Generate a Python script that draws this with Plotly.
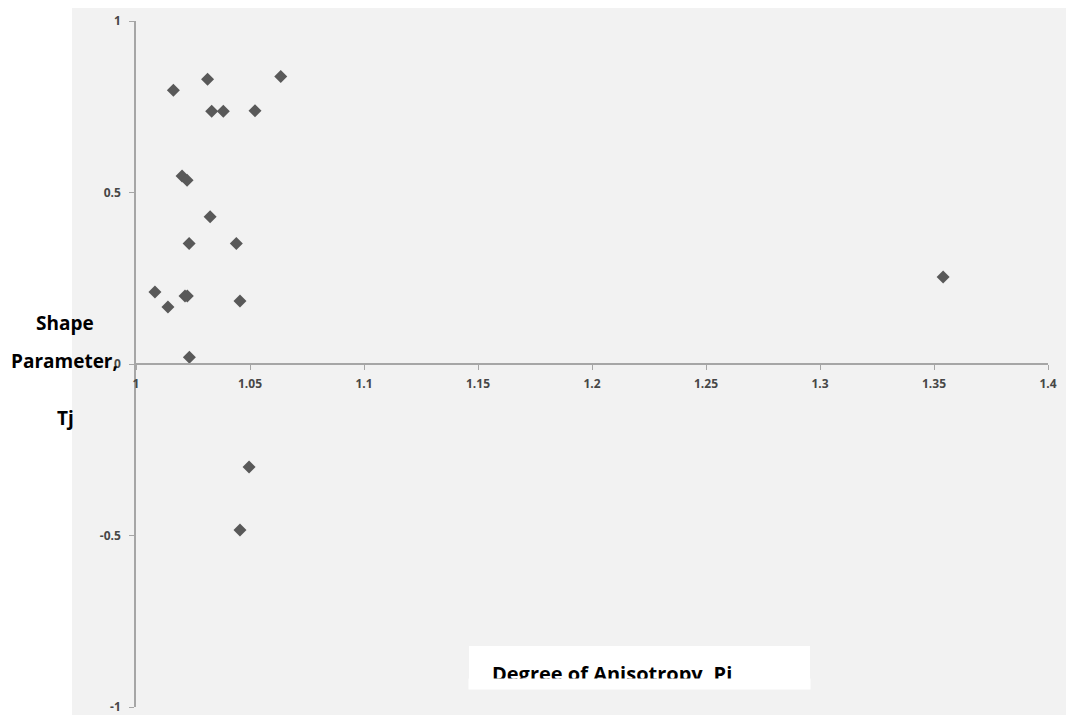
import plotly.graph_objects as go

# Data
pi_values = [1.0083, 1.0140, 1.0215, 1.0225, 1.0234, 1.0233, 1.0440, 1.0456, 1.0325,
             1.0202, 1.0224, 1.0164, 1.0314, 1.0332, 1.0383, 1.0522, 1.0635, 1.0456,
             1.0496, 1.3540]
tj_values = [0.210, 0.166, 0.198, 0.198, 0.020, 0.351, 0.351, 0.184, 0.429,
             0.548, 0.536, 0.798, 0.830, 0.737, 0.737, 0.738, 0.838, -0.484,
             -0.300, 0.254]

x_ticks = [1, 1.05, 1.1, 1.15, 1.2, 1.25, 1.3, 1.35, 1.4]
y_ticks = [-1, -0.5, 0, 0.5, 1]

fig = go.Figure()
fig.add_trace(go.Scatter(
    x=pi_values, y=tj_values, mode="markers",
    marker=dict(symbol="diamond", size=10, color="#595959"),
    showlegend=False, cliponaxis=False,
))

axis_common = dict(
    showgrid=False, zeroline=False, showline=True, linecolor="#a6a6a6", linewidth=1.5,
    ticks="outside", ticklen=5, tickwidth=1.2, tickcolor="#a6a6a6", automargin=False,
    ticklabeloverflow="allow",
    tickfont=dict(family="Open Sans", size=12, color="#474747", weight="bold"),
)

PLOT_H = 686

def py(screen_y):
    return (707 - screen_y) / PLOT_H

def px(screen_x):
    return (screen_x - 136) / 912

fig.update_layout(
    width=1066, height=720,
    margin=dict(l=128, r=26, t=13, b=21, autoexpand=False),
    paper_bgcolor="white", plot_bgcolor="rgba(0,0,0,0)",
    xaxis=dict(range=[1, 1.4], tickvals=x_ticks, ticktext=[str(v) for v in x_ticks],
               anchor="free", position=0.5, ticklabelstandoff=4, **axis_common),
    yaxis=dict(range=[-1, 1], tickvals=y_ticks, ticktext=[str(v) for v in y_ticks],
               ticklabelstandoff=6, **axis_common),
    shapes=[
        dict(type="rect", xref="paper", yref="paper", x0=px(72), x1=1.03, y0=-0.03, y1=py(8),
             fillcolor="#f2f2f2", line=dict(width=0), layer="below"),
        dict(type="rect", xref="paper", yref="paper", x0=px(469), x1=px(810), y0=py(689), y1=py(646),
             fillcolor="white", line=dict(width=0), layer="below"),
    ],
    annotations=[
        dict(text="<b>Degree of Anisotropy, Pi</b>", xref="paper", yref="paper",
             x=px(490), y=py(673), xanchor="left", yanchor="middle", showarrow=False,
             font=dict(family="Open Sans", size=20, color="black")),
        dict(text=" ", xref="paper", yref="paper", x=px(639.5), y=py(684),
             xanchor="center", yanchor="middle", showarrow=False, width=341, height=10,
             borderpad=0, bgcolor="white"),
        dict(text="<b>Shape</b>", xref="paper", yref="paper", x=px(65), y=py(323),
             xanchor="center", yanchor="middle", showarrow=False,
             font=dict(family="Open Sans", size=19, color="black")),
        dict(text="<b>Parameter,</b>", xref="paper", yref="paper", x=px(64), y=py(361),
             xanchor="center", yanchor="middle", showarrow=False,
             font=dict(family="Open Sans", size=19, color="black")),
        dict(text="<b>Tj</b>", xref="paper", yref="paper", x=px(65), y=py(418),
             xanchor="center", yanchor="middle", showarrow=False,
             font=dict(family="Open Sans", size=19, color="black")),
    ],
)

fig.write_html("out.html")
